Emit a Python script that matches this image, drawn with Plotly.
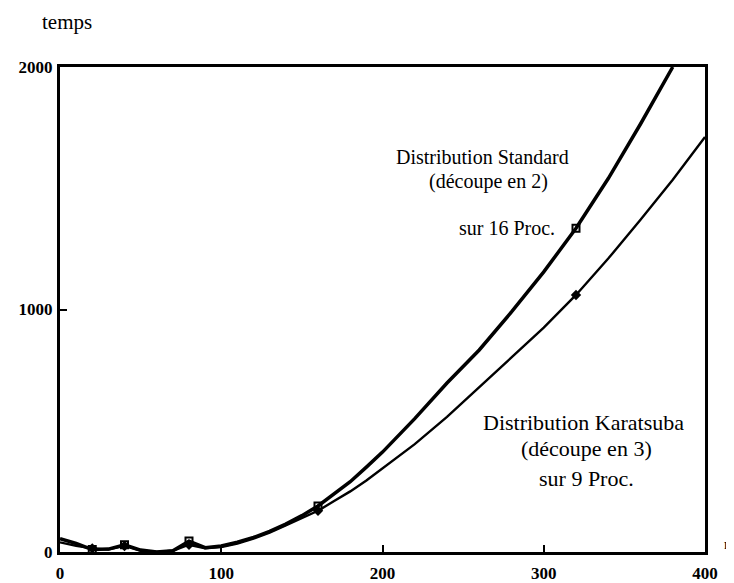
import plotly.graph_objects as go

# temps en fonction de n
std_n = [0, 10, 20, 30, 40, 50, 60, 70, 80, 90, 100, 110, 120, 130, 140, 150, 160, 170, 180, 190,
         200, 220, 240, 260, 280, 300, 320, 340, 360, 380]
std_temps = [55, 35, 10, 12, 30, 8, 0, 5, 45, 18, 25, 40, 60, 85, 115, 150, 190, 240, 290, 350,
             412, 550, 697, 833, 990, 1155, 1335, 1540, 1765, 2000]

kar_n = [0, 10, 20, 30, 40, 50, 60, 70, 80, 90, 100, 110, 120, 130, 140, 150, 160, 170, 180, 190,
         200, 220, 240, 260, 280, 300, 320, 340, 360, 380, 400]
kar_temps = [40, 25, 15, 10, 25, 5, 0, 5, 30, 15, 20, 35, 55, 80, 110, 140, 170, 210, 250, 295,
             345, 445, 557, 680, 800, 925, 1060, 1210, 1370, 1535, 1711]

# points mesures (marqueurs)
std_pts_n = [20, 40, 80, 160, 320]
std_pts_temps = [10, 30, 45, 190, 1335]
kar_pts_n = [20, 40, 80, 160, 320]
kar_pts_temps = [15, 25, 30, 170, 1060]

x_ticks = [0, 100, 200, 300, 400]
y_ticks = [0, 1000, 2000]

SERIF = 'Liberation Serif'

fig = go.Figure()
fig.add_trace(go.Scatter(x=std_n, y=std_temps, mode='lines',
                         line=dict(color='black', width=3.5), showlegend=False))
fig.add_trace(go.Scatter(x=kar_n, y=kar_temps, mode='lines',
                         line=dict(color='black', width=2.4), showlegend=False))
fig.add_trace(go.Scatter(x=std_pts_n, y=std_pts_temps, mode='markers',
                         marker=dict(symbol='square-open', size=7, color='black', line=dict(width=2)),
                         showlegend=False))
fig.add_trace(go.Scatter(x=kar_pts_n, y=kar_pts_temps, mode='markers',
                         marker=dict(symbol='diamond', size=8, color='black'),
                         showlegend=False))

axis_common = dict(showgrid=False, zeroline=False, showline=True, linecolor='black',
                   linewidth=3, mirror=True, ticks='inside', ticklen=7, tickwidth=2,
                   tickcolor='black', tickfont=dict(family=SERIF, size=17, color='black'),
                   automargin=False)
fig.update_xaxes(range=[0, 400], tickvals=x_ticks, ticktext=[f'<b>{v}</b>' for v in x_ticks],
                 ticklabelstandoff=4, **axis_common)
fig.update_yaxes(range=[0, 2000], tickvals=y_ticks, ticktext=[f'<b>{v}</b>' for v in y_ticks],
                 ticklabelstandoff=1, **axis_common)

std_font = dict(family=SERIF, size=20, color='black')
kar_font = dict(family=SERIF, size=22, color='black')
notes = [
    (0.655, 0.815, 'Distribution Standard', std_font),
    (0.665, 0.764, '(découpe en 2)', std_font),
    (0.693, 0.668, 'sur 16 Proc.', std_font),
    (0.811, 0.268, 'Distribution Karatsuba', kar_font),
    (0.817, 0.214, '(découpe en 3)', kar_font),
    (0.816, 0.152, 'sur 9 Proc.', kar_font),
]
for x, y, t, f in notes:
    fig.add_annotation(x=x, y=y, xref='paper', yref='paper', text=t, showarrow=False,
                       font=f, xanchor='center', yanchor='middle')

fig.add_annotation(x=-0.031, y=1.0, xref='paper', yref='paper', yshift=45, text='temps',
                   showarrow=False, font=dict(family=SERIF, size=21, color='black'),
                   xanchor='left', yanchor='middle')
fig.add_annotation(x=1.0, y=0.0, xref='paper', yref='paper', xshift=17, yshift=8, text='n',
                   showarrow=False, font=dict(family=SERIF, size=15, color='black'),
                   xanchor='left', yanchor='middle')

# la page ajoute 8 px de marge autour du graphique
fig.update_layout(width=734, height=583, plot_bgcolor='white', paper_bgcolor='white',
                  margin=dict(l=52, r=37, t=59, b=39, autoexpand=False))

fig.write_html('out.html')
